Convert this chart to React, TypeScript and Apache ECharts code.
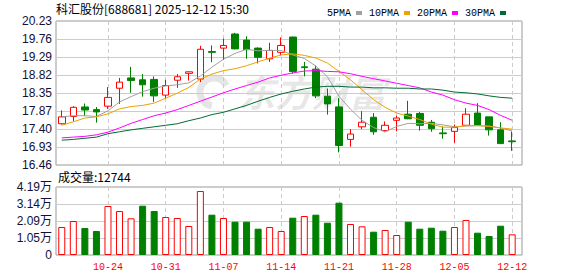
import React, { useEffect, useRef } from "react";
import * as echarts from "echarts";

const stockTitle = "科汇股份[688681] 2025-12-12 15:30";
const volumeLabel = "成交量:12744";

const dates = [
  "10-20", "10-21", "10-22", "10-23", "10-24",
  "10-27", "10-28", "10-29", "10-30", "10-31",
  "11-03", "11-04", "11-05", "11-06", "11-07",
  "11-10", "11-11", "11-12", "11-13", "11-14",
  "11-17", "11-18", "11-19", "11-20", "11-21",
  "11-24", "11-25", "11-26", "11-27", "11-28",
  "12-01", "12-02", "12-03", "12-04", "12-05",
  "12-08", "12-09", "12-10", "12-11", "12-12",
];

const opens = [
  17.54, 17.73, 17.98, 17.91, 18.0, 18.47, 18.74, 18.69, 18.7, 18.29,
  18.68, 18.86, 18.71, 19.43, 19.52, 19.89, 19.73, 19.52, 19.24, 19.41,
  19.81, 19.03, 18.97, 18.26, 17.98, 17.13, 17.46, 17.71, 17.36, 17.63,
  17.79, 17.81, 17.58, 17.3, 17.34, 17.5, 17.82, 17.72, 17.38, 17.09,
];
const closes = [
  17.72, 17.97, 17.9, 17.85, 18.23, 18.63, 18.67, 18.56, 18.27, 18.54,
  18.77, 18.9, 19.49, 19.41, 19.59, 19.5, 19.48, 19.28, 19.46, 19.59,
  18.91, 19.01, 18.27, 18.06, 16.97, 17.27, 17.58, 17.33, 17.5, 17.69,
  17.67, 17.5, 17.41, 17.28, 17.44, 17.79, 17.51, 17.38, 17.02, 17.07,
];
const lows = [
  17.52, 17.6, 17.74, 17.57, 17.93, 18.06, 18.35, 18.25, 18.11, 18.21,
  18.48, 18.67, 18.63, 19.15, 19.21, 19.49, 19.24, 19.12, 19.16, 19.33,
  18.85, 18.78, 18.21, 17.78, 16.79, 16.94, 17.4, 17.25, 17.32, 17.34,
  17.66, 17.36, 17.33, 17.15, 17.04, 17.49, 17.5, 17.23, 17.01, 16.83,
];
const highs = [
  17.89, 18.0, 18.07, 17.98, 18.5, 18.74, 19.03, 18.84, 18.78, 18.69,
  18.84, 18.91, 19.58, 19.59, 19.77, 19.92, 19.83, 19.54, 19.66, 19.8,
  19.82, 19.16, 19.06, 18.46, 18.21, 17.4, 17.87, 17.82, 17.6, 17.75,
  18.14, 17.85, 17.64, 17.47, 17.52, 17.95, 18.08, 17.72, 17.58, 17.34,
];

const volumes = [
  17250, 20950, 16640, 14790, 30190, 27110, 22610, 30380, 27110, 23420,
  22800, 17870, 39440, 24840, 22800, 20520, 20520, 16210, 17250, 14790,
  22980, 24030, 24840, 19900, 32230, 19100, 17680, 14360, 15400, 12320,
  20520, 16210, 16820, 14970, 17250, 21570, 13740, 11710, 18050, 12744,
];

const ma5 = [
  17.72, 17.75, 17.75, 17.73, 17.88, 18.11, 18.25, 18.38, 18.47, 18.53,
  18.56, 18.61, 18.79, 19.02, 19.23, 19.38, 19.49, 19.45, 19.46, 19.46,
  19.34, 19.25, 19.05, 18.77, 18.26, 17.92, 17.63, 17.44, 17.33, 17.47,
  17.55, 17.54, 17.55, 17.51, 17.46, 17.48, 17.49, 17.48, 17.43, 17.35,
];
const ma10 = [
  17.5, 17.59, 17.69, 17.72, 17.8, 17.93, 17.99, 18.02, 18.08, 18.21,
  18.34, 18.49, 18.71, 18.84, 18.93, 18.98, 19.06, 19.16, 19.26, 19.34,
  19.37, 19.33, 19.26, 19.13, 18.91, 18.69, 18.43, 18.17, 17.97, 17.82,
  17.74, 17.65, 17.53, 17.45, 17.45, 17.49, 17.49, 17.47, 17.43, 17.4,
];
const ma20 = [
  17.17, 17.19, 17.21, 17.25, 17.32, 17.43, 17.55, 17.65, 17.75, 17.82,
  17.91, 18.02, 18.13, 18.24, 18.35, 18.45, 18.54, 18.63, 18.74, 18.81,
  18.87, 18.92, 18.93, 18.91, 18.9, 18.85, 18.78, 18.72, 18.66, 18.6,
  18.54, 18.48, 18.37, 18.29, 18.17, 18.08, 18.02, 17.91, 17.76, 17.63,
];
const ma30 = [
  17.11, 17.13, 17.16, 17.19, 17.28, 17.33, 17.38, 17.42, 17.46, 17.5,
  17.54, 17.62, 17.69, 17.78, 17.84, 17.93, 18.02, 18.13, 18.23, 18.32,
  18.39, 18.45, 18.5, 18.52, 18.52, 18.5, 18.5, 18.48, 18.48, 18.47,
  18.47, 18.45, 18.45, 18.42, 18.37, 18.35, 18.32, 18.27, 18.23, 18.21,
];

const maNames = ["5PMA", "10PMA", "20PMA", "30PMA"];
const maColors = ["#a0a0a0", "#f0a000", "#ff00ff", "#006b33"];

const priceTickLabels = ["16.46", "16.93", "17.40", "17.87", "18.35", "18.82", "19.29", "19.76", "20.23"];
const volumeTickLabels = ["0", "1.05万", "2.09万", "3.14万", "4.19万"];
const xTickDates = ["10-24", "10-31", "11-07", "11-14", "11-21", "11-28", "12-05", "12-12"];

const priceMin = 16.46;
const priceMax = 20.23;
const volumeMax = 41900;

const UP = "#ff0000";
const DOWN = "#008000";

export default function App() {
  const ref = useRef<HTMLDivElement>(null);

  useEffect(() => {
    if (!ref.current) return;
    const chart = echarts.init(ref.current, null, { renderer: "svg" });

    const np = priceTickLabels.length;
    const priceTicks = priceTickLabels.map((_, i) =>
      i === np - 1 ? priceMax : priceMin + ((priceMax - priceMin) * i) / (np - 1)
    );
    const nv = volumeTickLabels.length;
    const volTicks = volumeTickLabels.map((_, i) => (i === nv - 1 ? volumeMax : (volumeMax * i) / (nv - 1)));
    const xTicks = xTickDates.map((d) => dates.indexOf(d));
    const xMin = -0.5;
    const xMax = 39.85;

    const labelFor = (ticks: number[], labels: string[]) => (v: number) => {
      const i = ticks.findIndex((t) => Math.abs(t - v) < 1e-6 * Math.max(1, Math.abs(t)));
      return i >= 0 ? labels[i] : "";
    };

    const axisFont = "Liberation Sans, Noto Sans CJK SC, sans-serif";

    const xAxisBase = (gridIndex: number, showLabel: boolean) => ({
      type: "value",
      gridIndex,
      min: xMin,
      max: xMax,
      axisLine: { show: false },
      axisTick: { show: false, customValues: xTicks },
      axisLabel: {
        show: showLabel,
        customValues: xTicks,
        formatter: (v: number) => dates[Math.round(v)] ?? "",
        color: UP,
        fontFamily: "Liberation Mono, monospace",
        fontSize: 10,
        margin: 7,
      },
      splitLine: { show: true, lineStyle: { color: "#cccccc", width: 1, type: [4, 3] } },
    });

    const option: any = {
      animation: false,
      backgroundColor: "#ffffff",
      legend: {
        data: maNames,
        right: 67,
        top: 3,
        itemWidth: 6,
        itemHeight: 4,
        itemGap: 7,
        align: "right",
        icon: "rect",
        textStyle: { fontFamily: "Liberation Mono, monospace", fontSize: 10, color: "#000" },
      },
      grid: [
        { left: 56, right: 56, top: 21, height: 144, show: true, borderColor: "#999999", borderWidth: 1, backgroundColor: "transparent" },
        { left: 56, right: 56, top: 187, height: 68, show: true, borderColor: "#999999", borderWidth: 1, backgroundColor: "transparent" },
      ],
      xAxis: [xAxisBase(0, false), xAxisBase(1, true)],
      yAxis: [
        {
          type: "value",
          gridIndex: 0,
          min: priceMin,
          max: priceMax,
          axisLine: { show: false },
          axisTick: { show: false, customValues: priceTicks },
          axisLabel: {
            customValues: priceTicks,
            formatter: labelFor(priceTicks, priceTickLabels),
            color: "#10103a",
            fontFamily: axisFont,
            fontSize: 12,
            margin: 4,
          },
          splitLine: { show: true, lineStyle: { color: "#cccccc", width: 1 } },
        },
        {
          type: "value",
          gridIndex: 1,
          min: 0,
          max: volumeMax,
          axisLine: { show: false },
          axisTick: { show: false, customValues: volTicks },
          axisLabel: {
            customValues: volTicks,
            formatter: labelFor(volTicks, volumeTickLabels),
            color: "#10103a",
            fontFamily: axisFont,
            fontSize: 12,
            margin: 4,
          },
          splitLine: { show: true, lineStyle: { color: "#cccccc", width: 1 } },
        },
      ],
      graphic: [
        {
          type: "text",
          left: 56,
          top: 2,
          style: { text: stockTitle, font: '12px "Noto Sans CJK SC", sans-serif', fill: "#000" },
        },
        {
          type: "text",
          left: 58,
          top: 170,
          style: { text: volumeLabel, font: '12px "Noto Sans CJK SC", sans-serif', fill: "#000" },
        },
        {
          type: "arc",
          shape: { cx: 214, cy: 92, r: 14, startAngle: Math.PI * 0.55, endAngle: Math.PI * 1.85 },
          style: { stroke: "rgba(0,0,0,0.1)", lineWidth: 7, fill: null },
          z: -1,
        },
        {
          type: "text",
          left: 238,
          top: 72,
          style: {
            text: "东方财富",
            font: 'italic bold 37px "Noto Sans CJK SC", sans-serif',
            fill: "rgba(0,0,0,0.1)",
          },
          z: -1,
        },
      ],
      series: [
        {
          type: "candlestick",
          xAxisIndex: 0,
          yAxisIndex: 0,
          barWidth: 7,
          data: dates.map((_, i) => [i, opens[i], closes[i], lows[i], highs[i]]),
          itemStyle: {
            color: "#ffffff",
            color0: DOWN,
            borderColor: UP,
            borderColor0: DOWN,
            borderWidth: 1,
          },
          silent: true,
        },
        ...[ma5, ma10, ma20, ma30].map((arr, k) => ({
          type: "line",
          name: maNames[k],
          xAxisIndex: 0,
          yAxisIndex: 0,
          data: arr.map((v, i) => [i, v]),
          showSymbol: false,
          symbol: "none",
          lineStyle: { width: 1, color: maColors[k] },
          itemStyle: { color: maColors[k] },
          silent: true,
        })),
        {
          type: "bar",
          xAxisIndex: 1,
          yAxisIndex: 1,
          barWidth: 7,
          data: volumes.map((v, i) => {
            const up = i === 0 ? closes[0] >= opens[0] : closes[i] >= closes[i - 1];
            return {
              value: [i, v],
              itemStyle: up
                ? { color: "#ffffff", borderColor: UP, borderWidth: 1 }
                : { color: DOWN, borderColor: DOWN, borderWidth: 1 },
            };
          }),
          silent: true,
        },
      ],
    };

    chart.setOption(option);
    return () => chart.dispose();
  }, []);

  return (
    <div
      ref={ref}
      style={{ position: "fixed", left: 0, top: 0, width: 578, height: 276, background: "#fff" }}
    />
  );
}
